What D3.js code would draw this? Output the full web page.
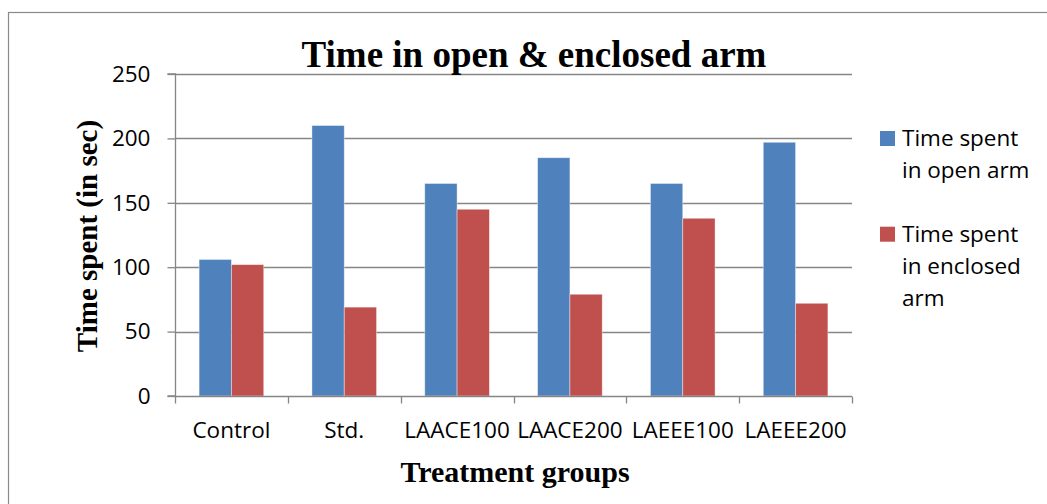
<!DOCTYPE html>
<html><head><meta charset="utf-8">
<script src="https://cdn.jsdelivr.net/npm/d3@7"></script>
<style>body{margin:0;background:#fff}svg{display:block}</style>
</head><body>
<svg id="c" width="1047" height="504"></svg>
<script>
const categories = ["Control","Std.","LAACE100","LAACE200","LAEEE100","LAEEE200"];
const timeOpen = [106,210,165,185,165,197];
const timeEnclosed = [102,69,145,79,138,72];
const seriesNames = ["Time spent in open arm","Time spent in enclosed arm"];
const legendLines = [["Time spent","in open arm"],["Time spent","in enclosed","arm"]];
const yTicks = [0,50,100,150,200,250];
const colors = ["#4F81BD","#C0504D"];

const svg = d3.select("#c");
const L=175,R=852,T=74,B=396;
const grid="#868686";

svg.append("rect").attr("x",8.5).attr("y",12.5).attr("width",1100).attr("height",600)
  .attr("fill","none").attr("stroke","#8a8a8a").attr("stroke-width",1.2);

const x0 = d3.scaleBand().domain(categories).range([L,R]).paddingInner(0).paddingOuter(0);
const x1 = d3.scaleBand().domain([0,1]).range([0,x0.bandwidth()]).paddingInner(0).paddingOuter(0.746);
const y = d3.scaleLinear().domain([0,250]).range([B,T]);

// gridlines
svg.append("g").selectAll("line").data(yTicks.filter(d=>d>0)).join("line")
  .attr("x1",L).attr("x2",R).attr("y1",d=>Math.round(y(d))+0.5).attr("y2",d=>Math.round(y(d))+0.5)
  .attr("stroke",grid).attr("stroke-width",1.3);

// bars
const data = categories.map((c,i)=>({c,v:[timeOpen[i],timeEnclosed[i]]}));
const g = svg.append("g").selectAll("g").data(data).join("g")
  .attr("transform",d=>`translate(${x0(d.c)},0)`);
g.selectAll("rect").data(d=>d.v.map((v,k)=>({v,k}))).join("rect")
  .attr("x",d=>x1(d.k)).attr("width",x1.bandwidth())
  .attr("y",d=>y(d.v)).attr("height",d=>B-y(d.v))
  .attr("fill",d=>colors[d.k]).attr("stroke","rgba(255,255,255,0.5)").attr("stroke-width",0.8);

// y axis
const ya = svg.append("g").attr("transform",`translate(${L+0.5},0)`)
  .call(d3.axisLeft(y).tickValues(yTicks).tickSize(8).tickPadding(17).tickFormat(d3.format("d")));
ya.select(".domain").attr("stroke",grid).attr("stroke-width",1.3).attr("d",`M-8,${T}H0V${B}H-8`);
ya.selectAll(".tick line").attr("stroke",grid).attr("stroke-width",1.3);
ya.selectAll("text").attr("font-family","Open Sans").attr("font-size",22.5).attr("fill","#000");

// x axis
const xa = svg.append("g").attr("transform",`translate(0,${B+0.5})`);
xa.append("line").attr("x1",L).attr("x2",R).attr("stroke",grid).attr("stroke-width",1.3);
const bounds = categories.map(c=>x0(c)).concat([R]);
xa.selectAll("line.t").data(bounds).join("line").attr("class","t")
  .attr("x1",d=>Math.round(d)+0.5).attr("x2",d=>Math.round(d)+0.5).attr("y1",0).attr("y2",7)
  .attr("stroke",grid).attr("stroke-width",1.3);
xa.selectAll("text").data(categories).join("text")
  .attr("x",d=>x0(d)+x0.bandwidth()/2).attr("y",41).attr("text-anchor","middle")
  .attr("font-family","Open Sans").attr("font-size",22.5).attr("fill","#000").text(d=>d);

// titles
svg.append("text").attr("x",534).attr("y",67).attr("text-anchor","middle")
  .attr("font-family","Liberation Serif").attr("font-weight","bold").attr("font-size",37)
  .text("Time in open & enclosed arm");
svg.append("text").attr("x",515).attr("y",482).attr("text-anchor","middle")
  .attr("font-family","Liberation Serif").attr("font-weight","bold").attr("font-size",30)
  .text("Treatment groups");
svg.append("text").attr("transform","translate(97,236) rotate(-90)").attr("text-anchor","middle")
  .attr("font-family","Liberation Serif").attr("font-weight","bold").attr("font-size",29)
  .text("Time spent (in sec)");

// legend
const lg = svg.append("g").selectAll("g").data(seriesNames).join("g")
  .attr("transform",(d,i)=>`translate(880,${131+i*95.7})`);
lg.append("rect").attr("width",15).attr("height",15).attr("fill",(d,i)=>colors[i]);
lg.append("text").attr("font-family","Open Sans").attr("font-size",22.5).attr("fill","#000")
  .selectAll("tspan").data((d,i)=>legendLines[i]).join("tspan")
  .attr("x",22).attr("y",(d,j)=>15+j*32).text(d=>d);
</script>
</body></html>
